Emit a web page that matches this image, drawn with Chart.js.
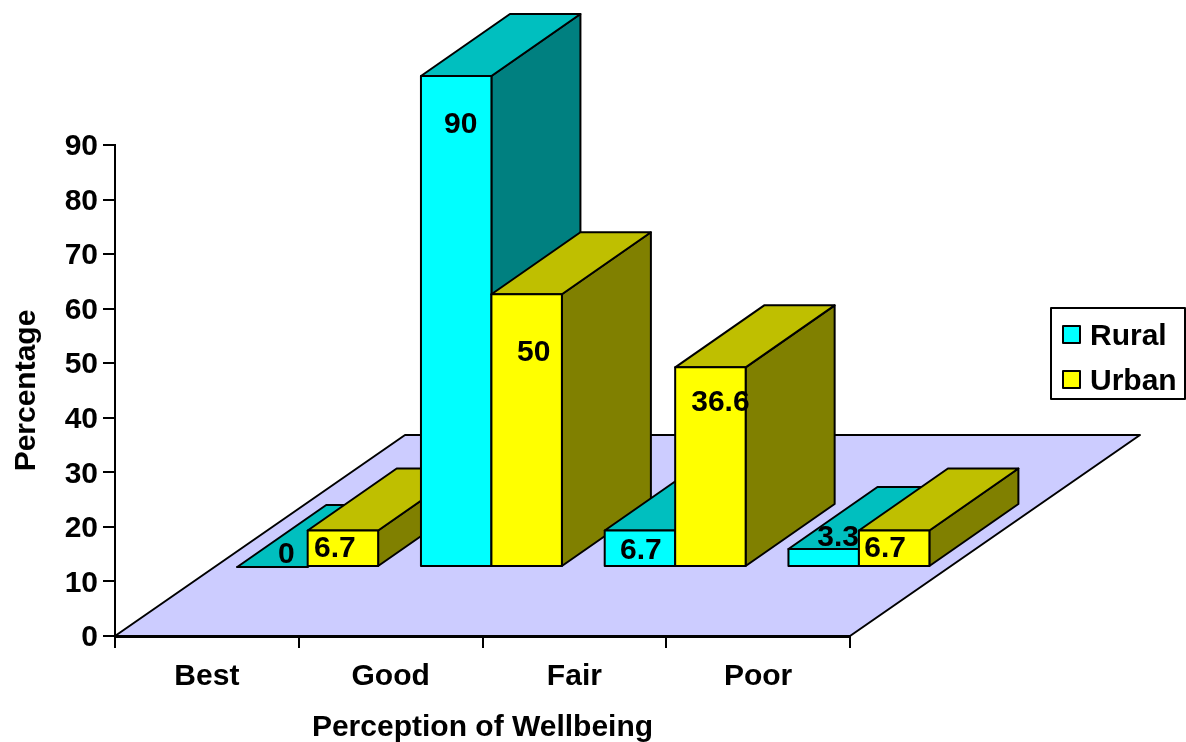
<!DOCTYPE html>
<html>
<head>
<meta charset="utf-8">
<title>Perception of Wellbeing</title>
<script src="https://cdn.jsdelivr.net/npm/chart.js@4"></script>
<style>
  html, body { margin: 0; padding: 0; background: #fff; overflow: hidden; }
  canvas { display: block; }
</style>
</head>
<body>
<canvas id="myChart" width="1186" height="742"></canvas>
<script>
const categories = ['Best', 'Good', 'Fair', 'Poor'];
const rural = [0, 90, 6.7, 3.3];
const urban = [6.7, 50, 36.6, 6.7];
const yTicks = [0, 10, 20, 30, 40, 50, 60, 70, 80, 90];

const FONT = '"Liberation Sans", Arial, sans-serif';
const BOLD = 'bold 30px ' + FONT;

// oblique projection of the floor and of the bars standing on it
const floorDepth = { x: 290, y: -201 };
const barFront = { x: 100.8, y: -69 };
const barDepth = { x: 89, y: -62 };

const faces = [
    { front: '#00ffff', top: '#00bfbf', side: '#008080' },
    { front: '#ffff00', top: '#bfbf00', side: '#808000' },
];

// value labels sit a little off the bar centre, in px from the top of the front face
const labelShift = [
    [[14, -12], [4.5, 49], [1, 20], [14.5, -11]],
    [[-8, 18], [7, 59], [10, 35], [-9, 18]],
];

function poly(ctx, pts, fill) {
    ctx.beginPath();
    pts.forEach((p, i) => (i ? ctx.lineTo(p[0], p[1]) : ctx.moveTo(p[0], p[1])));
    ctx.closePath();
    if (fill) {
        ctx.fillStyle = fill;
        ctx.fill();
    }
    ctx.stroke();
}

const bars3d = {
    id: 'bars3d',
    beforeDatasetsDraw(chart) {
        const ctx = chart.ctx;
        const area = chart.chartArea;
        ctx.save();
        ctx.strokeStyle = '#000';
        ctx.lineWidth = 2;
        ctx.lineJoin = 'round';

        // floor
        poly(ctx, [
            [area.left, area.bottom],
            [area.right, area.bottom],
            [area.right + floorDepth.x, area.bottom + floorDepth.y],
            [area.left + floorDepth.x, area.bottom + floorDepth.y],
        ], '#ccccff');

        // left to right so that nearer boxes cover the ones behind them
        categories.forEach((cat, i) => {
            chart.data.datasets.forEach((ds, d) => {
                const bar = chart.getDatasetMeta(d).data[i];
                const c = faces[d];
                const x0 = bar.x - bar.width / 2 + barFront.x;
                const x1 = bar.x + bar.width / 2 + barFront.x;
                const top = bar.y + barFront.y;
                const base = bar.base + barFront.y;
                const dx = barDepth.x;
                const dy = barDepth.y;
                if (x1 > x0 && base > top) {
                    poly(ctx, [[x1, top], [x1 + dx, top + dy], [x1 + dx, base + dy], [x1, base]], c.side);
                }
                poly(ctx, [[x0, top], [x0 + dx, top + dy], [x1 + dx, top + dy], [x1, top]], c.top);
                ctx.save();
                ctx.translate(barFront.x, barFront.y);
                bar.draw(ctx);
                ctx.restore();
                ctx.strokeRect(x0, top, x1 - x0, base - top);
            });
        });

        // value labels go over every box
        ctx.fillStyle = '#000';
        ctx.font = BOLD;
        ctx.textAlign = 'center';
        ctx.textBaseline = 'middle';
        chart.data.datasets.forEach((ds, d) => {
            chart.getDatasetMeta(d).data.forEach((bar, i) => {
                const shift = labelShift[d][i];
                ctx.fillText(String(ds.data[i]), bar.x + barFront.x + shift[0], bar.y + barFront.y + shift[1]);
            });
        });

        // legend box, cut off by the right edge of the page
        ctx.lineWidth = 2;
        ctx.fillStyle = '#fff';
        ctx.fillRect(1051, 308, 134, 91);
        ctx.strokeRect(1051, 308, 134, 91);
        ctx.textAlign = 'left';
        chart.data.datasets.forEach((ds, d) => {
            const rowY = 334 + d * 45;
            ctx.fillStyle = ds.backgroundColor;
            ctx.fillRect(1063, rowY - 8, 17, 17);
            ctx.strokeRect(1063, rowY - 8, 17, 17);
            ctx.fillStyle = '#000';
            ctx.fillText(ds.label, 1090, rowY + 3);
        });

        ctx.restore();
        return false;
    }
};

new Chart(document.getElementById('myChart'), {
    type: 'bar',
    data: {
        labels: categories,
        datasets: [
            { label: 'Rural', data: rural, backgroundColor: faces[0].front, borderWidth: 0 },
            { label: 'Urban', data: urban, backgroundColor: faces[1].front, borderWidth: 0 },
        ],
    },
    plugins: [bars3d],
    options: {
        responsive: false,
        animation: false,
        layout: { padding: { left: 0, top: 145, right: 336, bottom: 0 } },
        datasets: { bar: { categoryPercentage: 0.767, barPercentage: 1 } },
        plugins: { legend: { display: false }, tooltip: { enabled: false } },
        scales: {
            x: {
                z: 1,
                border: { color: '#000', width: 3 },
                grid: { drawOnChartArea: false, color: '#000', lineWidth: 2, tickLength: 12 },
                ticks: { color: '#000', font: { family: FONT, size: 30, weight: 'bold' }, padding: 11, maxRotation: 0 },
                title: {
                    display: true,
                    text: 'Perception of Wellbeing',
                    color: '#000',
                    font: { family: FONT, size: 30, weight: 'bold', lineHeight: 1 },
                    padding: { top: 0, bottom: -1 },
                },
                afterFit(scale) { scale.height = 106; },
            },
            y: {
                z: 1,
                min: 0,
                max: 90,
                afterBuildTicks(scale) { scale.ticks = yTicks.map((v) => ({ value: v })); },
                border: { color: '#000', width: 2 },
                grid: { drawOnChartArea: false, color: '#000', lineWidth: 2, tickLength: 12 },
                ticks: { color: '#000', font: { family: FONT, size: 30, weight: 'bold' }, padding: 5, labelOffset: 2 },
                title: {
                    display: true,
                    text: 'Percentage',
                    color: '#000',
                    font: { family: FONT, size: 30, weight: 'bold', lineHeight: 1 },
                    padding: { top: 12, bottom: 0 },
                },
                afterFit(scale) { scale.width = 115; },
            },
        },
    },
});
</script>
</body>
</html>
